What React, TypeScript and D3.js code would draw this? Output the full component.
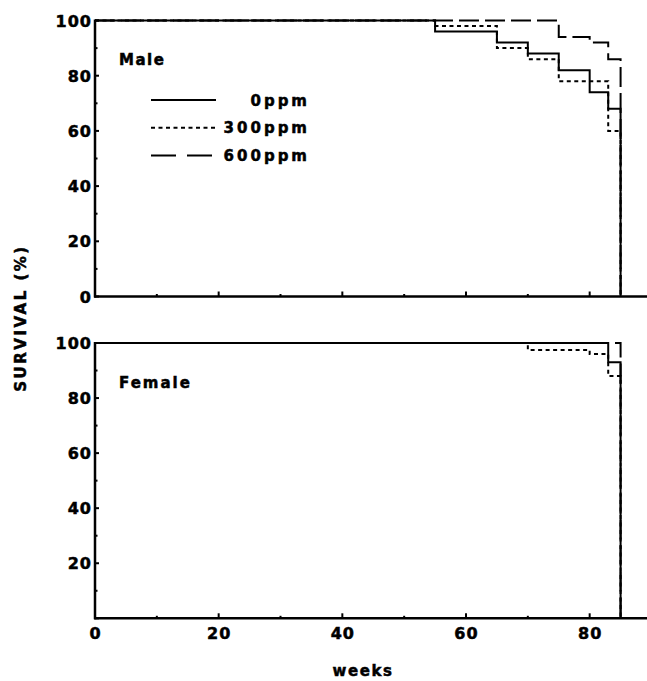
import * as d3 from "d3";

type Step = [number, number]; // [week, survival % from that week on]

// Male survival curves
const male0: Step[] = [[0, 100], [55, 96], [65, 92], [70, 88], [75, 82], [80, 74], [83, 68], [85, 0]];
const male300: Step[] = [[0, 100], [55, 98], [65, 90], [70, 86], [75, 78], [83, 60], [85, 0]];
const male600: Step[] = [[0, 100], [75, 94], [80, 92], [83, 86], [85, 78], [85, 0]];

// Female survival curves
const female0: Step[] = [[0, 100], [83, 93], [85, 93], [85, 0]];
const female300: Step[] = [[0, 100], [70, 97.5], [80, 96], [83, 88], [85, 88], [85, 0]];
const female600: Step[] = [[0, 100], [85, 100], [85, 0]];

const xTicks = [0, 20, 40, 60, 80];
const xMinor = [10, 30, 50, 70, 90];
const yTicks = [0, 20, 40, 60, 80, 100];
const yMinor = [10, 30, 50, 70, 90];
const doses = ["0ppm", "300ppm", "600ppm"];

const W = 647;
const H = 681;
const FONT = "'DejaVu Sans', Verdana, sans-serif";
const curveDash = [undefined, "4,3.5", "20,6"];
const legendDash = [undefined, "4,3.5", "25,11"];

// heavy type, like the original's black sans
const heavy = { fontFamily: FONT, fontWeight: "bold", stroke: "#000", strokeWidth: 0.5 } as const;

const x = d3.scaleLinear().domain([0, 90]).range([95, 651.5]);
const yMale = d3.scaleLinear().domain([0, 100]).range([296.5, 20.5]);
const yFemale = d3.scaleLinear().domain([0, 100]).range([618.3, 343]);

function Panel({ y, curves, label, labelY, labelLs, zeroLabel }: {
  y: d3.ScaleLinear<number, number>;
  curves: Step[][];
  label: string;
  labelY: number;
  labelLs: number;
  zeroLabel: boolean;
}) {
  const line = d3.line<Step>().x(d => x(d[0])).y(d => y(d[1])).curve(d3.curveStepAfter);
  const y0 = y(0);
  const yTop = y(100);
  return (
    <g>
      {curves.map((c, i) => (
        <path key={i} d={line(c) ?? ""} fill="none" stroke="#000" strokeWidth={2}
          strokeDasharray={curveDash[i]} />
      ))}
      {/* y axis */}
      <line x1={x(0)} x2={x(0)} y1={yTop - 1} y2={y0 + 1} stroke="#000" strokeWidth={2.5} />
      {yTicks.map(t => (
        <line key={t} x1={x(0)} x2={x(0) + 4} y1={y(t)} y2={y(t)} stroke="#000" strokeWidth={2} />
      ))}
      {yMinor.map(t => (
        <line key={t} x1={x(0)} x2={x(0) + 2.5} y1={y(t)} y2={y(t)} stroke="#000" strokeWidth={2} />
      ))}
      {yTicks.filter(t => t > 0 || zeroLabel).map(t => (
        <text key={t} x={x(0) - 3} y={y(t) + 6} textAnchor="end" fontSize={16} {...heavy}
          letterSpacing={1}>{t}</text>
      ))}
      {/* x axis */}
      <line x1={x(0) - 1} x2={W} y1={y0} y2={y0} stroke="#000" strokeWidth={2.5} />
      {xTicks.map(t => (
        <line key={t} x1={x(t)} x2={x(t)} y1={y0} y2={y0 - 5} stroke="#000" strokeWidth={2} />
      ))}
      {xMinor.map(t => (
        <line key={t} x1={x(t)} x2={x(t)} y1={y0} y2={y0 - 2.5} stroke="#000" strokeWidth={2} />
      ))}
      <text x={119} y={labelY} fontSize={15} {...heavy} letterSpacing={labelLs}>{label}</text>
    </g>
  );
}

export default function App() {
  const yBottom = yFemale(0);
  return (
    <svg width={W} height={H} style={{ position: "absolute", left: 0, top: 0, background: "#fff" }}>
      <Panel y={yMale} curves={[male0, male300, male600]} label="Male" labelY={65}
        labelLs={1.5} zeroLabel={true} />
      <Panel y={yFemale} curves={[female0, female300, female600]} label="Female" labelY={388}
        labelLs={2} zeroLabel={false} />

      {/* legend */}
      {doses.map((d, i) => {
        const ly = 100 + i * 27.8;
        return (
          <g key={d}>
            <line x1={151} x2={216} y1={ly} y2={ly} stroke="#000" strokeWidth={2}
              strokeDasharray={legendDash[i]} />
            <text x={310} y={ly + 5.5} textAnchor="end" fontSize={15} {...heavy}
              letterSpacing={3}>{d}</text>
          </g>
        );
      })}

      {/* x tick labels (bottom panel) */}
      {xTicks.map(t => (
        <text key={t} x={x(t) + 0.5} y={yBottom + 21} textAnchor="middle" fontSize={16} {...heavy}
          letterSpacing={1}>{t}</text>
      ))}

      <text x={363} y={676} textAnchor="middle" fontSize={15} {...heavy} letterSpacing={1.6}>weeks</text>
      <text transform="translate(26,318) rotate(-90)" textAnchor="middle" fontSize={15} {...heavy}
        letterSpacing={2.5}>SURVIVAL (%)</text>
    </svg>
  );
}
